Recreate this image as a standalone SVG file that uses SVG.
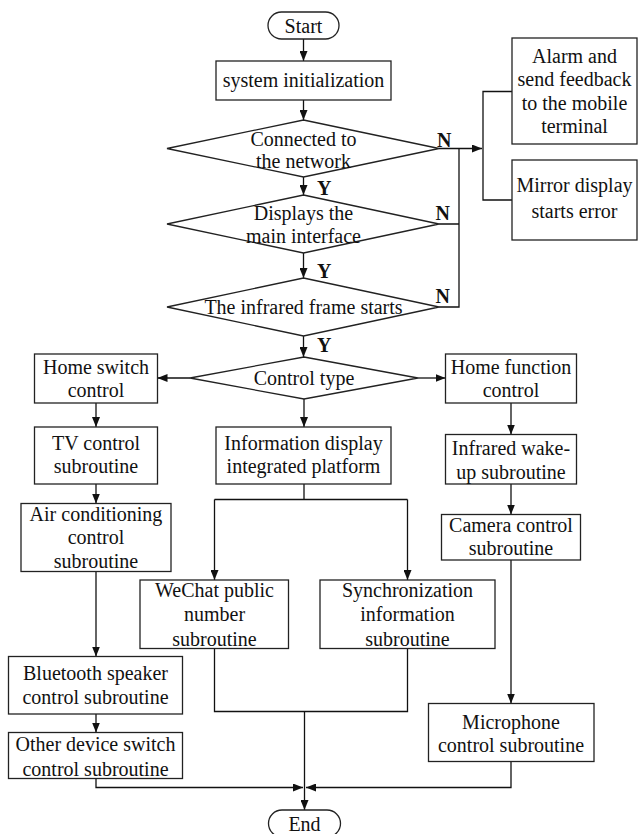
<svg xmlns="http://www.w3.org/2000/svg" width="638" height="834" viewBox="0 0 638 834">
<style>
.b{fill:#fff;stroke:#222;stroke-width:1.3}
.c{fill:none;stroke:#111;stroke-width:1.3}
.t{font-family:"Liberation Serif","Times New Roman",serif;font-size:20px;fill:#111;text-anchor:middle}
.l{font-family:"Liberation Serif","Times New Roman",serif;font-size:20px;font-weight:bold;fill:#111}
</style>
<defs>
<marker id="a" viewBox="0 0 10 8" refX="10" refY="4" markerWidth="10" markerHeight="8" markerUnits="userSpaceOnUse" orient="auto">
<path d="M0,0 L10,4 L0,8 Z" fill="#111"/>
</marker>
</defs>
<rect width="638" height="834" fill="#fff"/>
<g id="connectors">
<path class="c" d="M303.5,39 V61" marker-end="url(#a)"/>
<path class="c" d="M303.5,100 V120" marker-end="url(#a)"/>
<path class="c" d="M303.5,177 V195" marker-end="url(#a)"/>
<path class="c" d="M303.5,253 V278" marker-end="url(#a)"/>
<path class="c" d="M303.5,336 V357" marker-end="url(#a)"/>
<path class="c" d="M439,148.5 H482" marker-end="url(#a)"/>
<path class="c" d="M439,224 H459 M439,307 H459 V148.5"/>
<path class="c" d="M512,91.5 H483 V200 H512"/>
<path class="c" d="M190,378 H157.5" marker-end="url(#a)"/>
<path class="c" d="M418,378 H445.5" marker-end="url(#a)"/>
<path class="c" d="M304,399 V427" marker-end="url(#a)"/>
<path class="c" d="M96,403 V427" marker-end="url(#a)"/>
<path class="c" d="M96,484 V503.5" marker-end="url(#a)"/>
<path class="c" d="M96,571.5 V656.5" marker-end="url(#a)"/>
<path class="c" d="M96,714 V732.5" marker-end="url(#a)"/>
<path class="c" d="M96,778.5 V787.5 H303" marker-end="url(#a)"/>
<path class="c" d="M304,484 V499.5 M214.5,499.5 H407.5"/>
<path class="c" d="M214.5,499.5 V580" marker-end="url(#a)"/>
<path class="c" d="M407.5,499.5 V580" marker-end="url(#a)"/>
<path class="c" d="M214.5,648.5 V711.5 H407.5 V648.5"/>
<path class="c" d="M304.5,711.5 V810" marker-end="url(#a)"/>
<path class="c" d="M511,403 V434.5" marker-end="url(#a)"/>
<path class="c" d="M511,484 V514.5" marker-end="url(#a)"/>
<path class="c" d="M511,560 V703.5" marker-end="url(#a)"/>
<path class="c" d="M511,761.5 V787.5 H306" marker-end="url(#a)"/>
<text class="l" x="437" y="146.5">N</text>
<text class="l" x="435.5" y="220">N</text>
<text class="l" x="435.5" y="303">N</text>
<text class="l" x="317" y="195">Y</text>
<text class="l" x="317" y="278">Y</text>
<text class="l" x="317" y="351.5">Y</text>
</g>
<g id="start">
<rect class="b" x="268" y="12" width="71" height="27" rx="13.5"/>
<text class="t" x="303.5" y="32.5">Start</text>
</g>
<g id="init">
<rect class="b" x="216" y="61" width="175" height="39"/>
<text class="t" x="303.5" y="87">system initialization</text>
</g>
<g id="d1">
<polygon class="b" points="303.5,120 439,148.5 303.5,177 167,148.5"/>
<text class="t" x="303.5" y="145.5">Connected to</text>
<text class="t" x="303.5" y="168">the network</text>
</g>
<g id="d2">
<polygon class="b" points="303.5,195 439,224 303.5,253 167,224"/>
<text class="t" x="303.5" y="220">Displays the</text>
<text class="t" x="303.5" y="243">main interface</text>
</g>
<g id="d3">
<polygon class="b" points="303.5,278 439,307 303.5,336 167,307"/>
<text class="t" x="303.5" y="313.5">The infrared frame starts</text>
</g>
<g id="alarm">
<rect class="b" x="512" y="38" width="125" height="106"/>
<text class="t" x="574.5" y="62.5">Alarm and</text>
<text class="t" x="574.5" y="86">send feedback</text>
<text class="t" x="574.5" y="109.5">to the mobile</text>
<text class="t" x="574.5" y="133">terminal</text>
</g>
<g id="mirror">
<rect class="b" x="512" y="160" width="125" height="80"/>
<text class="t" x="574.5" y="191.5">Mirror display</text>
<text class="t" x="574.5" y="218">starts error</text>
</g>
<g id="d4">
<polygon class="b" points="304,357 418,378 304,399 190,378"/>
<text class="t" x="304" y="385">Control type</text>
</g>
<g id="homeswitch">
<rect class="b" x="34.5" y="354" width="123" height="49"/>
<text class="t" x="96" y="373.5">Home switch</text>
<text class="t" x="96" y="396.5">control</text>
</g>
<g id="tv">
<rect class="b" x="34.5" y="427" width="123" height="57"/>
<text class="t" x="96" y="450">TV control</text>
<text class="t" x="96" y="473">subroutine</text>
</g>
<g id="air">
<rect class="b" x="21" y="503.5" width="150" height="68"/>
<text class="t" x="96" y="520.5">Air conditioning</text>
<text class="t" x="96" y="544">control</text>
<text class="t" x="96" y="567.5">subroutine</text>
</g>
<g id="bluetooth">
<rect class="b" x="8.5" y="656.5" width="174" height="57.5"/>
<text class="t" x="95.5" y="680">Bluetooth speaker</text>
<text class="t" x="95.5" y="704">control subroutine</text>
</g>
<g id="other">
<rect class="b" x="8.5" y="732.5" width="174" height="46"/>
<text class="t" x="95.5" y="751">Other device switch</text>
<text class="t" x="95.5" y="775.5">control subroutine</text>
</g>
<g id="info">
<rect class="b" x="216" y="427" width="175" height="57"/>
<text class="t" x="303.5" y="450">Information display</text>
<text class="t" x="303.5" y="473">integrated platform</text>
</g>
<g id="wechat">
<rect class="b" x="140" y="580" width="148.5" height="68.5"/>
<text class="t" x="214.5" y="596.5">WeChat public</text>
<text class="t" x="214.5" y="621">number</text>
<text class="t" x="214.5" y="645.5">subroutine</text>
</g>
<g id="sync">
<rect class="b" x="320" y="580" width="175" height="68.5"/>
<text class="t" x="407.5" y="596.5">Synchronization</text>
<text class="t" x="407.5" y="621">information</text>
<text class="t" x="407.5" y="645.5">subroutine</text>
</g>
<g id="homefunction">
<rect class="b" x="445.5" y="354" width="131" height="49"/>
<text class="t" x="511" y="373.5">Home function</text>
<text class="t" x="511" y="396.5">control</text>
</g>
<g id="infrared">
<rect class="b" x="445.5" y="434.5" width="131" height="49.5"/>
<text class="t" x="511" y="455">Infrared wake-</text>
<text class="t" x="511" y="478.5">up subroutine</text>
</g>
<g id="camera">
<rect class="b" x="441.5" y="514.5" width="139" height="45.5"/>
<text class="t" x="511" y="531.5">Camera control</text>
<text class="t" x="511" y="555">subroutine</text>
</g>
<g id="microphone">
<rect class="b" x="428.5" y="703.5" width="165.5" height="58"/>
<text class="t" x="511" y="728.5">Microphone</text>
<text class="t" x="511" y="751.5">control subroutine</text>
</g>
<g id="end">
<rect class="b" x="268.5" y="810" width="72" height="27" rx="13.5"/>
<text class="t" x="304.5" y="830.5">End</text>
</g>
</svg>
